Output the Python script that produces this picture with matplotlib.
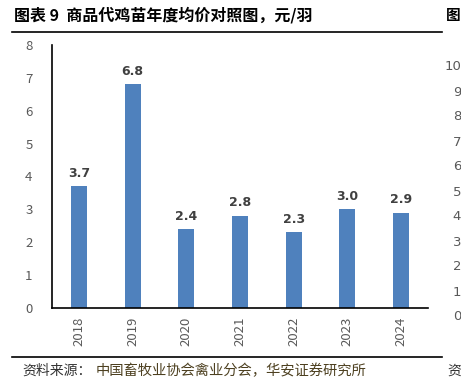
import matplotlib.pyplot as plt
from matplotlib.lines import Line2D

plt.rcParams['font.family'] = ['Noto Sans CJK SC', 'DejaVu Sans']

years = ['2018', '2019', '2020', '2021', '2022', '2023', '2024']
prices = [3.7, 6.8, 2.4, 2.8, 2.3, 3.0, 2.9]
labels = ['3.7', '6.8', '2.4', '2.8', '2.3', '3.0', '2.9']
yticks = [0, 1, 2, 3, 4, 5, 6, 7, 8]
# neighbouring chart's axis, cut off at the right edge
next_ticks = ['10', '9', '8', '7', '6', '5', '4', '3', '2', '1', '0']

W, H = 461, 390
fig = plt.figure(figsize=(W / 100, H / 100), dpi=100)
ax = fig.add_axes([52 / W, 1 - 308 / H, (428 - 52) / W, (308 - 45) / H])

x = range(len(years))
ax.bar(x, prices, width=0.3, color='#4f81bd')
for i, v in enumerate(prices):
    ax.text(i, v + 0.2, labels[i], ha='center', va='bottom', fontsize=9,
            fontweight='bold', color='#404040', family='DejaVu Sans')

ax.set_xlim(-0.5, len(years) - 0.5)
ax.set_ylim(0, 8)
ax.set_yticks(yticks)
ax.set_xticks(list(x))
ax.set_xticklabels(years, rotation=90)
ax.tick_params(axis='both', length=0, colors='#595959', labelsize=9.5)
ax.tick_params(axis='y', pad=14)
ax.tick_params(axis='x', pad=6)
for s in ['top', 'right']:
    ax.spines[s].set_visible(False)
for s in ['left', 'bottom']:
    ax.spines[s].set_color('black')
    ax.spines[s].set_linewidth(1.2)

# title and source
fig.text(14 / W, 1 - 15 / H, '图表 9  商品代鸡苗年度均价对照图，元/羽', fontsize=11.5,
         fontweight='bold', va='center', color='black')
fig.text(446 / W, 1 - 15 / H, '图', fontsize=10.5, fontweight='bold', va='center')
fig.add_artist(Line2D([12 / W, 442 / W], [1 - 32 / H, 1 - 32 / H], color='black', lw=1.2))
fig.add_artist(Line2D([12 / W, 442 / W], [1 - 357 / H, 1 - 357 / H], color='black', lw=1.2))
fig.text(22 / W, 1 - 371 / H, '资料来源：', fontsize=10, va='center', color='#333333')
fig.text(96 / W, 1 - 371 / H, '中国畜牧业协会禽业分会，华安证券研究所', fontsize=10.3,
         va='center', color='#4d4020')
fig.text(447 / W, 1 - 371 / H, '资', fontsize=10, va='center', color='#333333')

for i, t in enumerate(next_ticks):
    fig.text(461 / W, 1 - (67 + i * 25) / H, t, fontsize=9.5, ha='right', va='center',
             color='#595959', family='DejaVu Sans')

fig.savefig('out.png', dpi=100)
